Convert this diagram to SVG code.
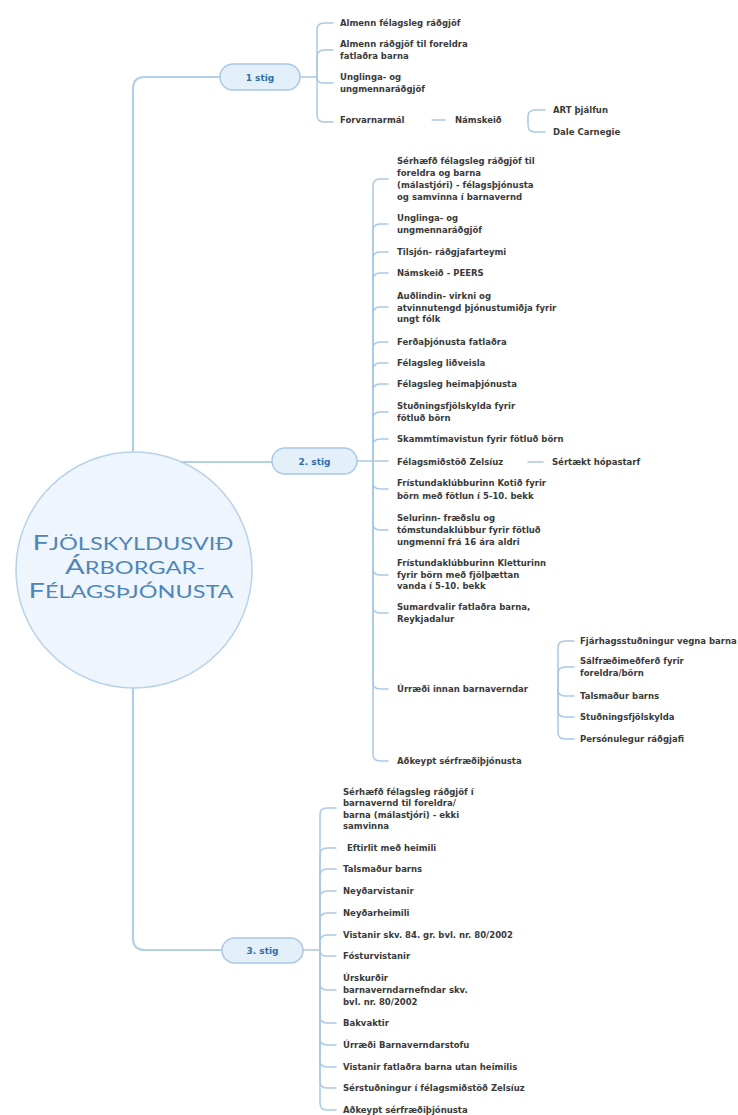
<svg xmlns="http://www.w3.org/2000/svg" width="738" height="1115" viewBox="0 0 738 1115">
<style>
.t{font-family:"DejaVu Sans","Liberation Sans",sans-serif;font-weight:bold;font-size:8.5px;fill:#3a3a3a}
.ln{fill:none;stroke:#abc9e3;stroke-width:1.5;stroke-linecap:round}
.tr{fill:none;stroke:#b3cfe6;stroke-width:2.2;stroke-linecap:round}
.pill{fill:#e3eff9;stroke:#a9c9e5;stroke-width:1.5}
.pt{font-family:"DejaVu Sans","Liberation Sans",sans-serif;font-weight:bold;font-size:9px;fill:#2f6fa8;text-anchor:middle}
.ct{font-family:Lato,"DejaVu Sans",sans-serif;fill:#4f86b8;text-anchor:middle}
</style>
<rect width="738" height="1115" fill="#ffffff"/>
<g id="connectors">
<path class="tr" d="M133,452 V89 Q133,77 145,77 H220"/>
<path class="tr" d="M133,462 H272"/>
<path class="tr" d="M133,688 V938 Q133,950 145,950 H222"/>
<!-- 1 stig -->
<path class="ln" d="M300,77 H317"/>
<path class="ln" d="M317,77 V30 Q317,23 324,23 H333"/>
<path class="ln" d="M317,77 V57 Q317,50 324,50 H333"/>
<path class="ln" d="M317,77 Q317,83 323,83 H333"/>
<path class="ln" d="M317,77 V115 Q317,122 324,122 H333"/>
<path class="ln" d="M432,120 H445"/>
<path class="ln" d="M528,120 V117 Q528,110 535,110 H545"/>
<path class="ln" d="M528,120 V125 Q528,132 535,132 H545"/>
<!-- 2 stig -->
<path class="ln" d="M357,461 H388"/>
<path class="ln" d="M373,461 V186 Q373,179 380,179 H388"/>
<path class="ln" d="M373,461 V231 Q373,224 380,224 H388"/>
<path class="ln" d="M373,461 V259 Q373,252 380,252 H388"/>
<path class="ln" d="M373,461 V280 Q373,273 380,273 H388"/>
<path class="ln" d="M373,461 V314 Q373,307 380,307 H388"/>
<path class="ln" d="M373,461 V349 Q373,342 380,342 H388"/>
<path class="ln" d="M373,461 V370 Q373,363 380,363 H388"/>
<path class="ln" d="M373,461 V391 Q373,384 380,384 H388"/>
<path class="ln" d="M373,461 V419 Q373,412 380,412 H388"/>
<path class="ln" d="M373,461 V446 Q373,439 380,439 H388"/>
<path class="ln" d="M373,461 V482 Q373,489 380,489 H388"/>
<path class="ln" d="M373,461 V523 Q373,530 380,530 H388"/>
<path class="ln" d="M373,461 V568 Q373,575 380,575 H388"/>
<path class="ln" d="M373,461 V606 Q373,613 380,613 H388"/>
<path class="ln" d="M373,461 V682 Q373,689 380,689 H388"/>
<path class="ln" d="M373,461 V754 Q373,761 380,761 H388"/>
<path class="ln" d="M528,462 H543"/>
<path class="ln" d="M558,689 V648 Q558,641 565,641 H574"/>
<path class="ln" d="M558,689 V674 Q558,667 565,667 H574"/>
<path class="ln" d="M558,689 Q558,696 565,696 H574"/>
<path class="ln" d="M558,689 V710 Q558,717 565,717 H574"/>
<path class="ln" d="M558,689 V732 Q558,739 565,739 H574"/>
<!-- 3 stig -->
<path class="ln" d="M303,950 H320"/>
<path class="ln" d="M320,950 V815 Q320,808 327,808 H336"/>
<path class="ln" d="M320,950 V855 Q320,848 327,848 H336"/>
<path class="ln" d="M320,950 V876 Q320,869 327,869 H336"/>
<path class="ln" d="M320,950 V898 Q320,891 327,891 H336"/>
<path class="ln" d="M320,950 V920 Q320,913 327,913 H336"/>
<path class="ln" d="M320,950 V942 Q320,935 327,935 H336"/>
<path class="ln" d="M320,950 Q320,956 326,956 H336"/>
<path class="ln" d="M320,950 V983 Q320,990 327,990 H336"/>
<path class="ln" d="M320,950 V1016 Q320,1023 327,1023 H336"/>
<path class="ln" d="M320,950 V1038 Q320,1045 327,1045 H336"/>
<path class="ln" d="M320,950 V1060 Q320,1067 327,1067 H336"/>
<path class="ln" d="M320,950 V1081 Q320,1088 327,1088 H336"/>
<path class="ln" d="M320,950 V1103 Q320,1110 327,1110 H336"/>
</g>
<g id="center">
<circle cx="134" cy="570" r="118" fill="#eef5fc" stroke="#b8d2e8" stroke-width="1.5"/>
<text class="ct" x="133" y="550" textLength="201" lengthAdjust="spacingAndGlyphs"><tspan font-size="21">F</tspan><tspan font-size="17">JÖLSKYLDUSVIÐ</tspan></text>
<text class="ct" x="135" y="574" textLength="140" lengthAdjust="spacingAndGlyphs"><tspan font-size="21">Á</tspan><tspan font-size="17">RBORGAR-</tspan></text>
<text class="ct" x="131" y="598" textLength="205" lengthAdjust="spacingAndGlyphs"><tspan font-size="21">F</tspan><tspan font-size="17">ÉLAGSÞJÓNUSTA</tspan></text>
</g>
<g id="stig1"><rect class="pill" x="220" y="64" width="80" height="26" rx="13"/><text class="pt" x="260" y="80.5">1 stig</text></g>
<g id="stig2"><rect class="pill" x="272" y="448" width="85" height="26" rx="13"/><text class="pt" x="314.5" y="464.5">2. stig</text></g>
<g id="stig3"><rect class="pill" x="222" y="938" width="81" height="25" rx="12.5"/><text class="pt" x="262.5" y="954">3. stig</text></g>
<g id="s1-items">
<text class="t" x="340" y="26">Almenn félagsleg ráðgjöf</text>
<text class="t" x="340" y="47">Almenn ráðgjöf til foreldra</text>
<text class="t" x="340" y="59">fatlaðra barna</text>
<text class="t" x="340" y="80">Unglinga- og</text>
<text class="t" x="340" y="92">ungmennaráðgjöf</text>
<text class="t" x="340" y="123">Forvarnarmál</text>
<text class="t" x="455" y="123">Námskeið</text>
<text class="t" x="553" y="113">ART þjálfun</text>
<text class="t" x="553" y="135">Dale Carnegie</text>
</g>
<g id="s2-items">
<text class="t" x="397" y="164">Sérhæfð félagsleg ráðgjöf  til</text>
<text class="t" x="397" y="176">foreldra og barna</text>
<text class="t" x="397" y="188">(málastjóri) - félagsþjónusta</text>
<text class="t" x="397" y="200">og samvinna í barnavernd</text>
<text class="t" x="397" y="221">Unglinga- og</text>
<text class="t" x="397" y="233">ungmennaráðgjöf</text>
<text class="t" x="397" y="255">Tilsjón- ráðgjafarteymi</text>
<text class="t" x="397" y="276">Námskeið - PEERS</text>
<text class="t" x="397" y="299">Auðlindin- virkni og</text>
<text class="t" x="397" y="311">atvinnutengd þjónustumiðja fyrir</text>
<text class="t" x="397" y="322">ungt fólk</text>
<text class="t" x="397" y="345">Ferðaþjónusta fatlaðra</text>
<text class="t" x="397" y="366">Félagsleg liðveisla</text>
<text class="t" x="397" y="387">Félagsleg heimaþjónusta</text>
<text class="t" x="397" y="409">Stuðningsfjölskylda fyrir</text>
<text class="t" x="397" y="421">fötluð börn</text>
<text class="t" x="397" y="442">Skammtímavistun fyrir fötluð börn</text>
<text class="t" x="397" y="465">Félagsmiðstöð Zelsíuz</text>
<text class="t" x="552" y="465">Sértækt hópastarf</text>
<text class="t" x="397" y="486">Frístundaklúbburinn Kotið fyrir</text>
<text class="t" x="397" y="499">börn með fötlun í 5-10. bekk</text>
<text class="t" x="397" y="521">Selurinn- fræðslu og</text>
<text class="t" x="397" y="533">tómstundaklúbbur fyrir fötluð</text>
<text class="t" x="397" y="545">ungmenni frá 16 ára aldri</text>
<text class="t" x="397" y="566">Frístundaklúbburinn Kletturinn</text>
<text class="t" x="397" y="578">fyrir börn með fjölþættan</text>
<text class="t" x="397" y="589">vanda í 5-10. bekk</text>
<text class="t" x="397" y="610">Sumardvalir fatlaðra barna,</text>
<text class="t" x="397" y="622">Reykjadalur</text>
<text class="t" x="397" y="692">Úrræði innan barnaverndar</text>
<text class="t" x="580" y="644">Fjárhagsstuðningur vegna barna</text>
<text class="t" x="580" y="664">Sálfræðimeðferð fyrir</text>
<text class="t" x="580" y="676">foreldra/börn</text>
<text class="t" x="580" y="699">Talsmaður barns</text>
<text class="t" x="580" y="720">Stuðningsfjölskylda</text>
<text class="t" x="580" y="742">Persónulegur ráðgjafi</text>
<text class="t" x="397" y="764">Aðkeypt sérfræðiþjónusta</text>
</g>
<g id="s3-items">
<text class="t" x="343" y="795">Sérhæfð félagsleg ráðgjöf í</text>
<text class="t" x="343" y="806">barnavernd til foreldra/</text>
<text class="t" x="343" y="818">barna (málastjóri) - ekki</text>
<text class="t" x="343" y="829">samvinna</text>
<text class="t" x="347" y="851">Eftirlit með heimili</text>
<text class="t" x="343" y="872">Talsmaður barns</text>
<text class="t" x="343" y="894">Neyðarvistanir</text>
<text class="t" x="343" y="916">Neyðarheimili</text>
<text class="t" x="343" y="938">Vistanir skv. 84. gr. bvl. nr. 80/2002</text>
<text class="t" x="343" y="959">Fósturvistanir</text>
<text class="t" x="343" y="981">Úrskurðir</text>
<text class="t" x="343" y="993">barnaverndarnefndar skv.</text>
<text class="t" x="343" y="1005">bvl. nr. 80/2002</text>
<text class="t" x="343" y="1026">Bakvaktir</text>
<text class="t" x="343" y="1048">Úrræði Barnaverndarstofu</text>
<text class="t" x="343" y="1070">Vistanir fatlaðra barna utan heimilis</text>
<text class="t" x="343" y="1091">Sérstuðningur í félagsmiðstöð Zelsíuz</text>
<text class="t" x="343" y="1113">Aðkeypt sérfræðiþjónusta</text>
</g>
</svg>
